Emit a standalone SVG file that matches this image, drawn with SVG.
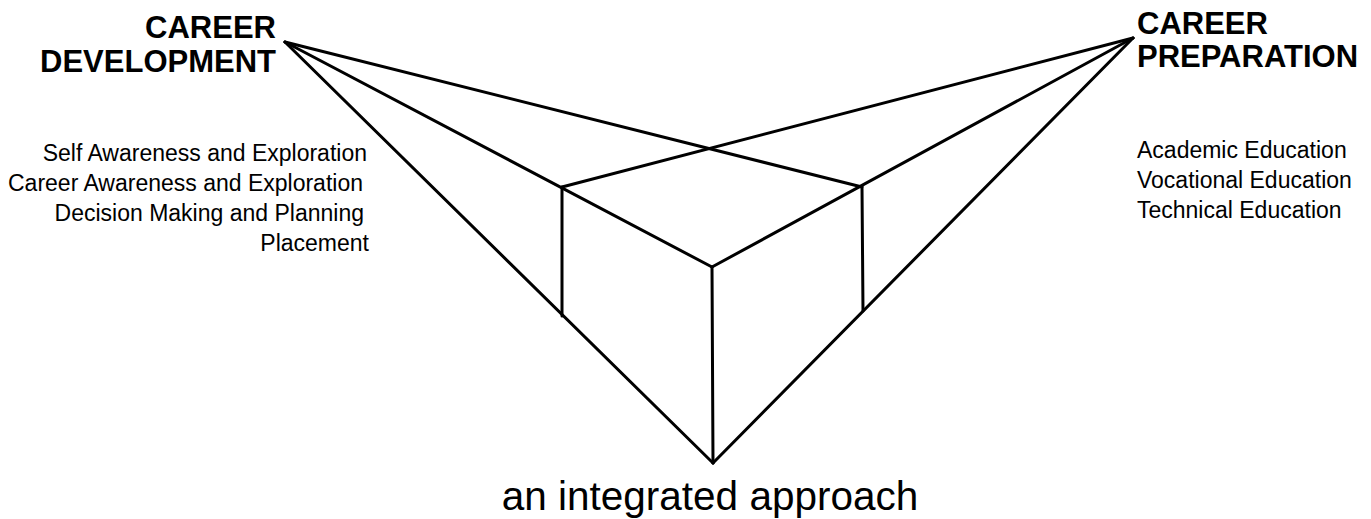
<svg xmlns="http://www.w3.org/2000/svg" width="1371" height="519" viewBox="0 0 1371 519">
  <style>
    .ln { stroke: #000; stroke-width: 3; fill: none; stroke-linecap: round; stroke-linejoin: round; }
    .head { font-family: "Liberation Sans", Arial, sans-serif; font-weight: bold; font-size: 31px; fill: #000; }
    .item { font-family: "Liberation Sans", Arial, sans-serif; font-size: 23px; fill: #000; }
    .title { font-family: "Liberation Sans", Arial, sans-serif; font-size: 40.5px; fill: #000; }
  </style>
  <rect width="1371" height="519" fill="#fff"/>

  <g id="connectors">
    <!-- from left vanishing point -->
    <line class="ln" x1="285" y1="42" x2="862" y2="187"/>
    <line class="ln" x1="285" y1="42" x2="712" y2="267"/>
    <line class="ln" x1="285" y1="42" x2="713" y2="463"/>
    <!-- from right vanishing point -->
    <line class="ln" x1="1133" y1="38" x2="562" y2="187"/>
    <line class="ln" x1="1133" y1="38" x2="712" y2="267"/>
    <line class="ln" x1="1133" y1="38" x2="713" y2="463"/>
    <!-- verticals -->
    <line class="ln" x1="562" y1="187" x2="562" y2="316"/>
    <line class="ln" x1="712" y1="267" x2="713" y2="463"/>
    <line class="ln" x1="862" y1="187" x2="863" y2="311"/>
  </g>

  <g id="career-development">
    <text class="head" x="276" y="38" text-anchor="end">CAREER</text>
    <text class="head" x="276" y="72" text-anchor="end">DEVELOPMENT</text>
    <text class="item" x="367" y="161" text-anchor="end">Self Awareness and Exploration</text>
    <text class="item" x="363" y="191" text-anchor="end">Career Awareness and Exploration</text>
    <text class="item" x="364" y="221" text-anchor="end">Decision Making and Planning</text>
    <text class="item" x="369" y="251" text-anchor="end">Placement</text>
  </g>

  <g id="career-preparation">
    <text class="head" x="1137" y="34">CAREER</text>
    <text class="head" x="1137" y="67">PREPARATION</text>
    <text class="item" x="1137" y="158">Academic Education</text>
    <text class="item" x="1137" y="188">Vocational Education</text>
    <text class="item" x="1137" y="218">Technical Education</text>
  </g>

  <g id="integrated-approach">
    <text class="title" x="710" y="510" text-anchor="middle">an integrated approach</text>
  </g>
</svg>
